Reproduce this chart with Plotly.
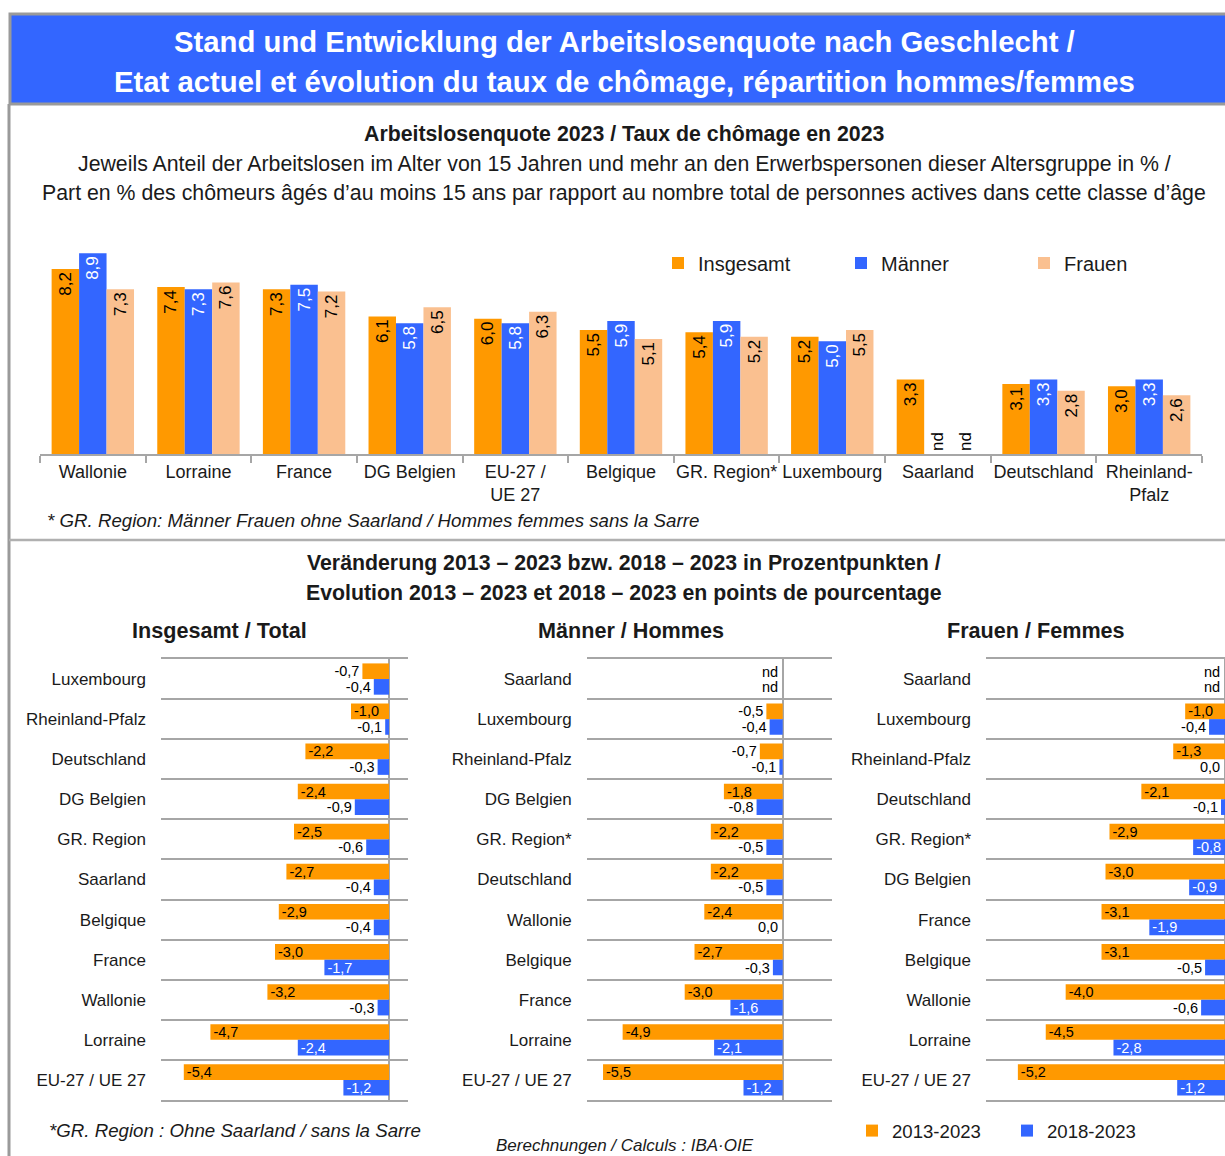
import plotly.graph_objects as go

W, H = 1225, 1156
FONT = "Liberation Sans, Arial, sans-serif"
ORANGE = "#FF9900"
BLUE = "#3366FF"
PEACH = "#FAC090"
GRID = "#A6A6A6"
TXT = "#1a1a1a"

# ---------------- data: unemployment rate 2023 ----------------
rate_categories = ["Wallonie", "Lorraine", "France", "DG Belgien", "EU-27 /<br>UE 27",
                   "Belgique", "GR. Region*", "Luxembourg", "Saarland", "Deutschland",
                   "Rheinland-<br>Pfalz"]
rate_total = [8.2, 7.4, 7.3, 6.1, 6.0, 5.5, 5.4, 5.2, 3.3, 3.1, 3.0]
rate_men = [8.9, 7.3, 7.5, 5.8, 5.8, 5.9, 5.9, 5.0, None, 3.3, 3.3]
rate_women = [7.3, 7.6, 7.2, 6.5, 6.3, 5.1, 5.2, 5.5, None, 2.8, 2.6]

# ---------------- data: change in percentage points ----------------
total_categories = ["Luxembourg", "Rheinland-Pfalz", "Deutschland", "DG Belgien", "GR. Region",
                    "Saarland", "Belgique", "France", "Wallonie", "Lorraine", "EU-27 / UE 27"]
total_2013 = [-0.7, -1.0, -2.2, -2.4, -2.5, -2.7, -2.9, -3.0, -3.2, -4.7, -5.4]
total_2018 = [-0.4, -0.1, -0.3, -0.9, -0.6, -0.4, -0.4, -1.7, -0.3, -2.4, -1.2]

men_categories = ["Saarland", "Luxembourg", "Rheinland-Pfalz", "DG Belgien", "GR. Region*",
                  "Deutschland", "Wallonie", "Belgique", "France", "Lorraine", "EU-27 / UE 27"]
men_2013 = [None, -0.5, -0.7, -1.8, -2.2, -2.2, -2.4, -2.7, -3.0, -4.9, -5.5]
men_2018 = [None, -0.4, -0.1, -0.8, -0.5, -0.5, 0.0, -0.3, -1.6, -2.1, -1.2]

women_categories = ["Saarland", "Luxembourg", "Rheinland-Pfalz", "Deutschland", "GR. Region*",
                    "DG Belgien", "France", "Belgique", "Wallonie", "Lorraine", "EU-27 / UE 27"]
women_2013 = [None, -1.0, -1.3, -2.1, -2.9, -3.0, -3.1, -3.1, -4.0, -4.5, -5.2]
women_2018 = [None, -0.4, 0.0, -0.1, -0.8, -0.9, -1.9, -0.5, -0.6, -2.8, -1.2]


def fmt(v):
    return "nd" if v is None else f"{v:.1f}".replace(".", ",")


def vals(lst):
    return [0 if v is None else v for v in lst]


def px_x(x):
    return x / W


def px_y(y):
    return 1 - y / H


fig = go.Figure()

# ---------------- top grouped bar chart ----------------
for name, data, color, tcolor in [("Insgesamt", rate_total, ORANGE, "black"),
                                  ("Männer", rate_men, BLUE, "white"),
                                  ("Frauen", rate_women, PEACH, "black")]:
    fig.add_trace(go.Bar(
        x=rate_categories, y=vals(data), name=name, marker=dict(color=color, line=dict(width=0)),
        text=[fmt(v) for v in data],
        textposition=["outside" if v is None else "inside" for v in data],
        textangle=-90, insidetextanchor="end", constraintext="none",
        insidetextfont=dict(color=tcolor, size=17, family=FONT),
        outsidetextfont=dict(color="black", size=17, family=FONT),
        cliponaxis=False, xaxis="x", yaxis="y", legend="legend",
        hoverinfo="skip"))

# ---------------- three horizontal panels ----------------
panel_geom = [("2", 161, 408, [-6, 0.5]),
              ("3", 586.7, 831.7, [-6, 1.5]),
              ("4", 986, 1225, [-6, 0])]
panels = [(total_categories, total_2013, total_2018, 1.0),
          (men_categories, men_2013, men_2018, 1.0),
          (women_categories, women_2013, women_2018, 0.75)]
zero_labels = []
for idx, ((cats, v13, v18, thr), (ax, _, _, _)) in enumerate(zip(panels, panel_geom)):
    for k, (name, data, color, tcolor) in enumerate([("2013-2023", v13, ORANGE, "black"),
                                                     ("2018-2023", v18, BLUE, "white")]):
        pos = []
        for c, v in zip(cats, data):
            if v is None or v == 0:
                pos.append("none")
                zero_labels.append(dict(text=fmt(v), x=0, y=c, xref="x" + ax, yref="y" + ax,
                                        xanchor="right", yanchor="middle", showarrow=False,
                                        xshift=-3, yshift=7.5 if k == 0 else -7.5,
                                        font=dict(size=14.5, color="black", family=FONT)))
            elif abs(v) < thr:
                pos.append("outside")
            else:
                pos.append("inside")
        fig.add_trace(go.Bar(
            y=cats, x=vals(data), orientation="h", name=name,
            marker=dict(color=color, line=dict(width=0)),
            text=[fmt(v) for v in data], textposition=pos,
            insidetextanchor="end", constraintext="none",
            insidetextfont=dict(color=tcolor, size=14.5, family=FONT),
            outsidetextfont=dict(color="black", size=14.5, family=FONT),
            cliponaxis=True, xaxis="x" + ax, yaxis="y" + ax,
            legend="legend2", showlegend=(idx == 0), hoverinfo="skip"))

# ---------------- axes ----------------
fig.update_layout(
    xaxis=dict(domain=[px_x(40), px_x(1202)], anchor="y", type="category",
               showline=True, linecolor=GRID, linewidth=2, ticks="outside",
               tickson="boundaries", ticklen=7, tickcolor=GRID, tickwidth=1.5, tickangle=0,
               tickfont=dict(size=18, color=TXT, family=FONT), showgrid=False),
    yaxis=dict(domain=[px_y(454), px_y(228.4)], anchor="x", range=[0, 10], visible=False),
)

for ax, x0, x1, rng in panel_geom:
    fig.update_layout({
        "xaxis" + ax: dict(domain=[px_x(x0), min(px_x(x1), 1.0)], anchor="y" + ax, range=rng,
                           showticklabels=False, showgrid=False, zeroline=True,
                           zerolinecolor=GRID, zerolinewidth=2, showline=True, mirror=True,
                           linecolor=GRID, linewidth=2, ticks=""),
        "yaxis" + ax: dict(domain=[px_y(1100), px_y(659)], anchor="x" + ax, type="category",
                           autorange="reversed", showgrid=True, gridcolor=GRID, gridwidth=2,
                           tickson="boundaries", ticks="", ticklabelstandoff=14,
                           tickfont=dict(size=17, color=TXT, family=FONT)),
    })

# ---------------- decoration shapes ----------------
shapes = [
    dict(type="rect", xref="paper", yref="paper", x0=px_x(10), x1=px_x(1240),
         y0=px_y(104), y1=px_y(14), fillcolor=BLUE, line=dict(color="#9a9a9a", width=3), layer="below"),
    dict(type="line", xref="paper", yref="paper", x0=px_x(9), x1=px_x(9),
         y0=px_y(104), y1=px_y(1170), line=dict(color="#9a9a9a", width=3)),
    dict(type="line", xref="paper", yref="paper", x0=px_x(9), x1=px_x(1240),
         y0=px_y(540), y1=px_y(540), line=dict(color="#b0b0b0", width=2.5)),
]


# ---------------- text annotations ----------------
def ann(text, x, y, size, bold=False, italic=False, color=TXT, xanchor="center"):
    if bold:
        text = f"<b>{text}</b>"
    if italic:
        text = f"<i>{text}</i>"
    return dict(text=text, x=px_x(x), y=px_y(y), xref="paper", yref="paper",
                xanchor=xanchor, yanchor="middle", showarrow=False,
                font=dict(size=size, color=color, family=FONT))


annotations = [
    ann("Stand und Entwicklung der Arbeitslosenquote nach Geschlecht /", 624, 41, 29.3, bold=True, color="white"),
    ann("Etat actuel et évolution du taux de chômage, répartition hommes/femmes", 624, 81, 29.3, bold=True, color="white"),
    ann("Arbeitslosenquote 2023 / Taux de chômage en 2023", 624, 134, 21.3, bold=True),
    ann("Jeweils Anteil der Arbeitslosen im Alter von 15 Jahren und mehr an den Erwerbspersonen dieser Altersgruppe in % /",
        624, 164, 21.3),
    ann("Part en % des chômeurs âgés d’au moins 15 ans par rapport au nombre total de personnes actives dans cette classe d’âge",
        624, 193, 21.3),
    ann("* GR. Region: Männer Frauen ohne Saarland / Hommes femmes sans la Sarre", 45, 520, 18.7,
        italic=True, xanchor="left"),
    ann("Veränderung 2013 – 2023 bzw. 2018 – 2023 in Prozentpunkten /", 624, 563, 21.3, bold=True),
    ann("Evolution 2013 – 2023 et 2018 – 2023 en points de pourcentage", 624, 593, 21.3, bold=True),
    ann("Insgesamt / Total", 219, 630, 21.6, bold=True),
    ann("Männer / Hommes", 631, 630, 21.6, bold=True),
    ann("Frauen / Femmes", 1036, 630, 21.6, bold=True),
    ann("*GR. Region : Ohne Saarland / sans la Sarre", 47, 1130, 18.7, italic=True, xanchor="left"),
    ann("Berechnungen / Calculs : IBA·OIE", 625, 1145, 17, italic=True),
] + zero_labels

fig.update_layout(
    width=W, height=H, margin=dict(l=0, r=0, t=0, b=0, pad=0),
    paper_bgcolor="white", plot_bgcolor="rgba(0,0,0,0)",
    barmode="group", bargap=0.22,
    font=dict(family=FONT, color=TXT),
    shapes=shapes, annotations=annotations,
    legend=dict(orientation="h", x=px_x(658), y=px_y(263), xanchor="left", yanchor="middle",
                font=dict(size=20, color=TXT, family=FONT), entrywidth=138,
                entrywidthmode="pixels", bgcolor="rgba(0,0,0,0)", traceorder="normal"),
    legend2=dict(orientation="h", x=px_x(852), y=px_y(1131), xanchor="left", yanchor="middle",
                 font=dict(size=18.6, color=TXT, family=FONT), entrywidth=110,
                 entrywidthmode="pixels", bgcolor="rgba(0,0,0,0)", traceorder="normal"),
    showlegend=True,
)

fig.write_html("out.html", config={"displayModeBar": False, "responsive": False},
               post_script="document.body.style.margin='0';document.body.style.overflow='hidden';")
